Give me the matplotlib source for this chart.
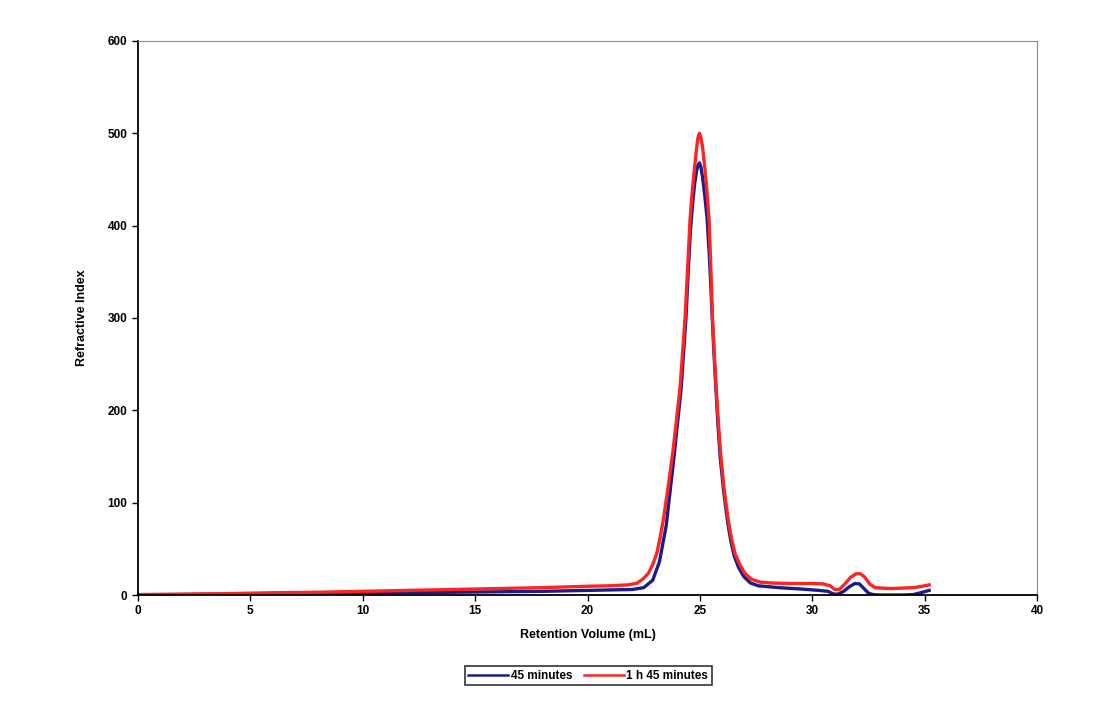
import matplotlib.pyplot as plt
import numpy as np

plt.rcParams['font.family'] = ['Liberation Sans', 'DejaVu Sans']

# 45 minutes trace: retention volume (mL) and refractive index
vol_45min = [0, 2, 4, 6, 8, 10, 12, 14, 16, 18, 20, 21, 22.0, 22.5, 22.9,
             23.2, 23.5, 23.85, 24.17, 24.38, 24.48, 24.58, 24.68, 24.77,
             24.85, 24.92, 24.98, 25.04, 25.12, 25.22, 25.32, 25.41, 25.48,
             25.55, 25.63, 25.71, 25.8, 25.9, 26.06, 26.24, 26.38, 26.53,
             26.72, 26.95, 27.25, 27.6, 28.5, 29.5, 30.3, 30.7, 30.95, 31.15,
             31.4, 31.65, 31.9, 32.1, 32.3, 32.5, 32.7, 33.0, 33.5, 34.0,
             34.5, 34.9, 35.2]
ri_45min = [0, 0.5, 1, 1, 1.5, 2, 2.5, 3, 3.5, 4, 5, 5.5, 6, 8, 16, 36, 75,
            150, 225, 300, 350, 395, 425, 446, 459, 466, 468, 464, 452, 432,
            408, 372, 338, 300, 260, 225, 186, 150, 112, 78, 58, 42, 30, 20,
            13, 10, 8, 6.5, 5, 4, 1, 1, 4, 9, 12.5, 12, 7, 2, 0.5, 0, 0, 0,
            0.5, 3, 5]

# 1 h 45 minutes trace
vol_1h45 = [0, 2, 4, 6, 8, 10, 12, 14, 16, 18, 20, 21, 21.8, 22.19, 22.45,
            22.71, 22.9, 23.08, 23.22, 23.37, 23.58, 23.79, 23.96, 24.12,
            24.23, 24.34, 24.45, 24.56, 24.66, 24.75, 24.81, 24.86, 24.91,
            24.98, 25.05, 25.12, 25.23, 25.32, 25.41, 25.49, 25.56, 25.64,
            25.72, 25.82, 25.92, 26.08, 26.26, 26.4, 26.56, 26.78, 27.0, 27.3,
            27.67, 28.2, 29.0, 30.0, 30.5, 30.8, 31.0, 31.2, 31.45, 31.7,
            31.95, 32.15, 32.35, 32.55, 32.8, 33.1, 33.5, 34.0, 34.5, 34.9,
            35.2]
ri_1h45 = [0.5, 1, 1.5, 2.5, 3, 4, 5, 6, 7, 8, 9.5, 10, 11, 12.7, 17, 23.5,
           33, 45, 61, 81, 116, 153.5, 190, 225.6, 262, 300, 352, 406, 437,
           460, 474, 485, 495, 500, 495, 485, 460, 435, 406, 352, 300, 262,
           225.6, 188, 153.5, 114, 81, 62, 45, 33, 23.5, 17, 14, 13, 12.5,
           12.5, 12, 10, 6, 6, 12, 19, 23, 23, 19, 12, 8, 7.5, 7, 7.5, 8,
           9.5, 11]

fig = plt.figure(figsize=(11.14, 7.04), dpi=100)
ax = fig.add_axes([0.1239, 0.1548, 0.807, 0.787])

ax.plot(vol_45min, ri_45min, color='#1c1c8a', lw=2.4, label='45 minutes')
ax.plot(vol_1h45, ri_1h45, color='#ff2424', lw=2.4, label='1 h 45 minutes')

ax.set_xlim(0, 40)
ax.set_ylim(0, 600)
ax.set_xticks(np.arange(0, 41, 5))
ax.set_yticks(np.arange(0, 601, 100))
ax.tick_params(direction='out', length=4, width=1, labelsize=8.5)
for lbl in ax.get_xticklabels() + ax.get_yticklabels():
    lbl.set_fontweight('bold')

for s in ['left', 'bottom']:
    ax.spines[s].set_color('black')
    ax.spines[s].set_linewidth(1.3)
for s in ['top', 'right']:
    ax.spines[s].set_color('#8c8c8c')
    ax.spines[s].set_linewidth(0.8)

ax.set_xlabel('Retention Volume (mL)', fontsize=9, fontweight='bold', labelpad=8)
ax.set_ylabel('Refractive Index', fontsize=9, fontweight='bold', labelpad=14)

leg = fig.legend(loc='center', bbox_to_anchor=(0.528, 0.04), ncol=2,
                 frameon=True, fancybox=False, edgecolor='black',
                 handlelength=3.4, columnspacing=1.0, handletextpad=0.2,
                 borderpad=0.3, prop={'weight': 'bold', 'size': 8.5})
leg.get_frame().set_linewidth(1.2)
for line in leg.get_lines():
    line.set_linewidth(1.8)

fig.savefig('out.png', dpi=100)
